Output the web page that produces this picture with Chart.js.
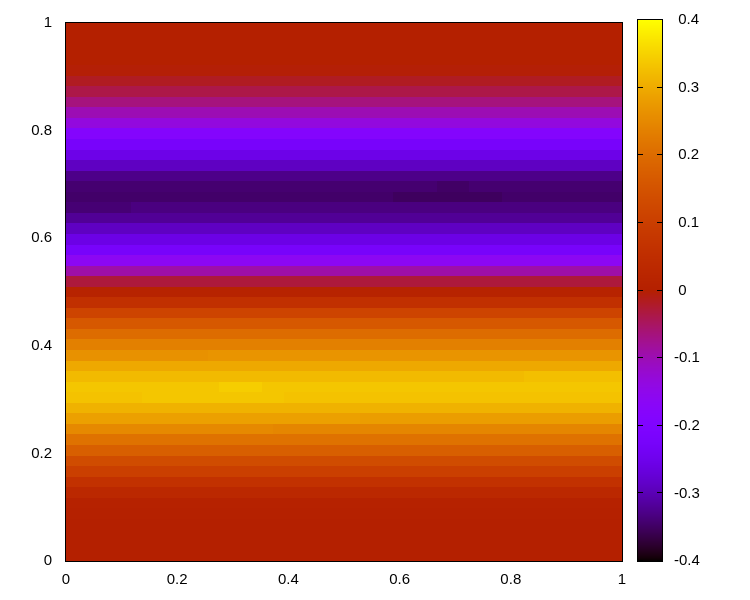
<!DOCTYPE html>
<html>
<head>
<meta charset="utf-8">
<script src="https://cdn.jsdelivr.net/npm/chart.js@4.4.1/dist/chart.umd.min.js"></script>
<style>
  html, body { margin: 0; padding: 0; background: #fff; }
  #wrap { position: relative; width: 750px; height: 600px; }
  #wrap canvas { position: absolute; top: 0; }
</style>
</head>
<body>
<div id="wrap">
  <canvas id="map" width="750" height="600" style="left:0"></canvas>
  <canvas id="cbar" width="113" height="600" style="left:637px"></canvas>
</div>
<script>
// value of each row, from y = 0 (bottom) to y = 1 (top)
const rowValues = [
  0, 0, 0, 0, 0.003, 0.008, 0.03, 0.062, 0.103, 0.134,
  0.176, 0.212, 0.25, 0.285, 0.31, 0.33, 0.335, 0.32, 0.296, 0.267,
  0.236, 0.2, 0.161, 0.115, 0.06, 0.012, -0.03, -0.092, -0.16, -0.223,
  -0.257, -0.29, -0.32, -0.333, -0.346, -0.342, -0.328, -0.29, -0.255, -0.223,
  -0.186, -0.135, -0.1, -0.065, -0.037, -0.017, -0.003, 0, 0, 0,
  0
];
const columnCount = 51;

// cells that differ from their row: [row, first column, last column, value]
const patches = [
  [35, 34, 36, -0.348],
  [34, 30, 39, -0.352],
  [33, 0, 5, -0.34],
  [19, 0, 12, 0.263],
  [17, 42, 50, 0.326],
  [16, 14, 17, 0.344],
  [15, 7, 19, 0.335],
  [13, 27, 50, 0.281],
  [12, 19, 50, 0.246]
];

const xTicks = [0, 0.2, 0.4, 0.6, 0.8, 1];
const xTickLabels = ['0', '0.2', '0.4', '0.6', '0.8', '1'];
const yTicks = [0, 0.2, 0.4, 0.6, 0.8, 1];
const yTickLabels = ['0', '0.2', '0.4', '0.6', '0.8', '1'];
const cbTicks = [-0.4, -0.3, -0.2, -0.1, 0, 0.1, 0.2, 0.3, 0.4];
const cbTickLabels = ['-0.4', '-0.3', '-0.2', '-0.1', ' 0', ' 0.1', ' 0.2', ' 0.3', ' 0.4'];
const cbMin = -0.4, cbMax = 0.4;

// table of cell values built from the rows and patches
const grid = rowValues.map(v => new Array(columnCount).fill(v));
patches.forEach(([row, c0, c1, v]) => {
  for (let c = c0; c <= c1; c++) grid[row][c] = v;
});

// gnuplot default palette (rgbformulae 7,5,15)
function palette(v) {
  let t = (v - cbMin) / (cbMax - cbMin);
  t = Math.min(1, Math.max(0, t));
  const r = Math.sqrt(t);
  const g = t * t * t;
  const b = Math.max(0, Math.sin(2 * Math.PI * t));
  return 'rgb(' + Math.round(r * 255) + ',' + Math.round(g * 255) + ',' + Math.round(b * 255) + ')';
}

Chart.defaults.font.family = '"Liberation Sans", Arial, sans-serif';
Chart.defaults.font.size = 15;
Chart.defaults.color = '#000';

const heatmap = {
  id: 'heatmap',
  beforeDatasetsDraw(chart) {
    const { ctx, scales: { x, y } } = chart;
    const rows = grid.length;
    ctx.save();
    for (let j = 0; j < rows; j++) {
      const yTop = Math.round(y.getPixelForValue((j + 1) / rows));
      const yBot = Math.round(y.getPixelForValue(j / rows));
      for (let c = 0; c < columnCount; c++) {
        const x0 = Math.round(x.getPixelForValue(c / columnCount));
        const x1 = Math.round(x.getPixelForValue((c + 1) / columnCount));
        ctx.fillStyle = palette(grid[j][c]);
        ctx.fillRect(x0, yTop, x1 - x0, yBot - yTop);
      }
    }
    ctx.restore();
  },
  afterDraw(chart) {
    const { ctx, chartArea: a } = chart;
    ctx.save();
    ctx.strokeStyle = '#000';
    ctx.lineWidth = 1;
    ctx.strokeRect(a.left - 0.5, a.top - 0.5, a.right - a.left + 1, a.bottom - a.top + 1);
    ctx.restore();
  }
};

new Chart(document.getElementById('map'), {
  type: 'scatter',
  data: { datasets: [] },
  options: {
    responsive: false,
    animation: false,
    plugins: { legend: { display: false }, tooltip: { enabled: false } },
    layout: { padding: { top: 20, right: 128, left: 0, bottom: 0 } },
    scales: {
      x: {
        type: 'linear', min: 0, max: 1,
        grid: { display: false, drawTicks: false },
        border: { display: false },
        afterBuildTicks: s => { s.ticks = xTicks.map(v => ({ value: v })); },
        ticks: { padding: 10, maxRotation: 0, callback: (v, i) => xTickLabels[i] },
        afterFit: s => { s.height = 39; }
      },
      y: {
        type: 'linear', min: 0, max: 1,
        grid: { display: false, drawTicks: false },
        border: { display: false },
        afterBuildTicks: s => { s.ticks = yTicks.map(v => ({ value: v })); },
        ticks: { padding: 14, callback: (v, i) => yTickLabels[i] },
        afterFit: s => { s.width = 66; }
      }
    }
  },
  plugins: [heatmap]
});

const colorbox = {
  id: 'colorbox',
  beforeDatasetsDraw(chart) {
    const { ctx, chartArea: a, scales: { y } } = chart;
    ctx.save();
    for (let py = a.top; py < a.bottom; py++) {
      ctx.fillStyle = palette(y.getValueForPixel(py + 0.5));
      ctx.fillRect(a.left, py, a.right - a.left, 1);
    }
    ctx.restore();
  },
  afterDraw(chart) {
    const { ctx, chartArea: a, scales: { y } } = chart;
    ctx.save();
    ctx.strokeStyle = '#000';
    ctx.lineWidth = 1;
    ctx.beginPath();
    cbTicks.forEach(v => {
      const py = Math.round(y.getPixelForValue(v)) - 0.5;
      ctx.moveTo(a.left, py); ctx.lineTo(a.left + 6, py);
      ctx.moveTo(a.right - 6, py); ctx.lineTo(a.right, py);
    });
    ctx.stroke();
    ctx.strokeRect(a.left + 0.5, a.top - 0.5, a.right - a.left - 1, a.bottom - a.top + 1);
    ctx.restore();
  }
};

new Chart(document.getElementById('cbar'), {
  type: 'bar',
  data: { labels: [''], datasets: [] },
  options: {
    responsive: false,
    animation: false,
    plugins: { legend: { display: false }, tooltip: { enabled: false } },
    layout: { padding: { top: 20, bottom: 39, left: 0, right: 0 } },
    scales: {
      x: { display: false },
      y: {
        type: 'linear', position: 'right', min: cbMin, max: cbMax,
        grid: { display: false, drawTicks: false },
        border: { display: false },
        afterBuildTicks: s => { s.ticks = cbTicks.map(v => ({ value: v })); },
        ticks: { padding: 11, callback: (v, i) => cbTickLabels[i] },
        afterFit: s => { s.width = 87; }
      }
    }
  },
  plugins: [colorbox]
});
</script>
</body>
</html>
